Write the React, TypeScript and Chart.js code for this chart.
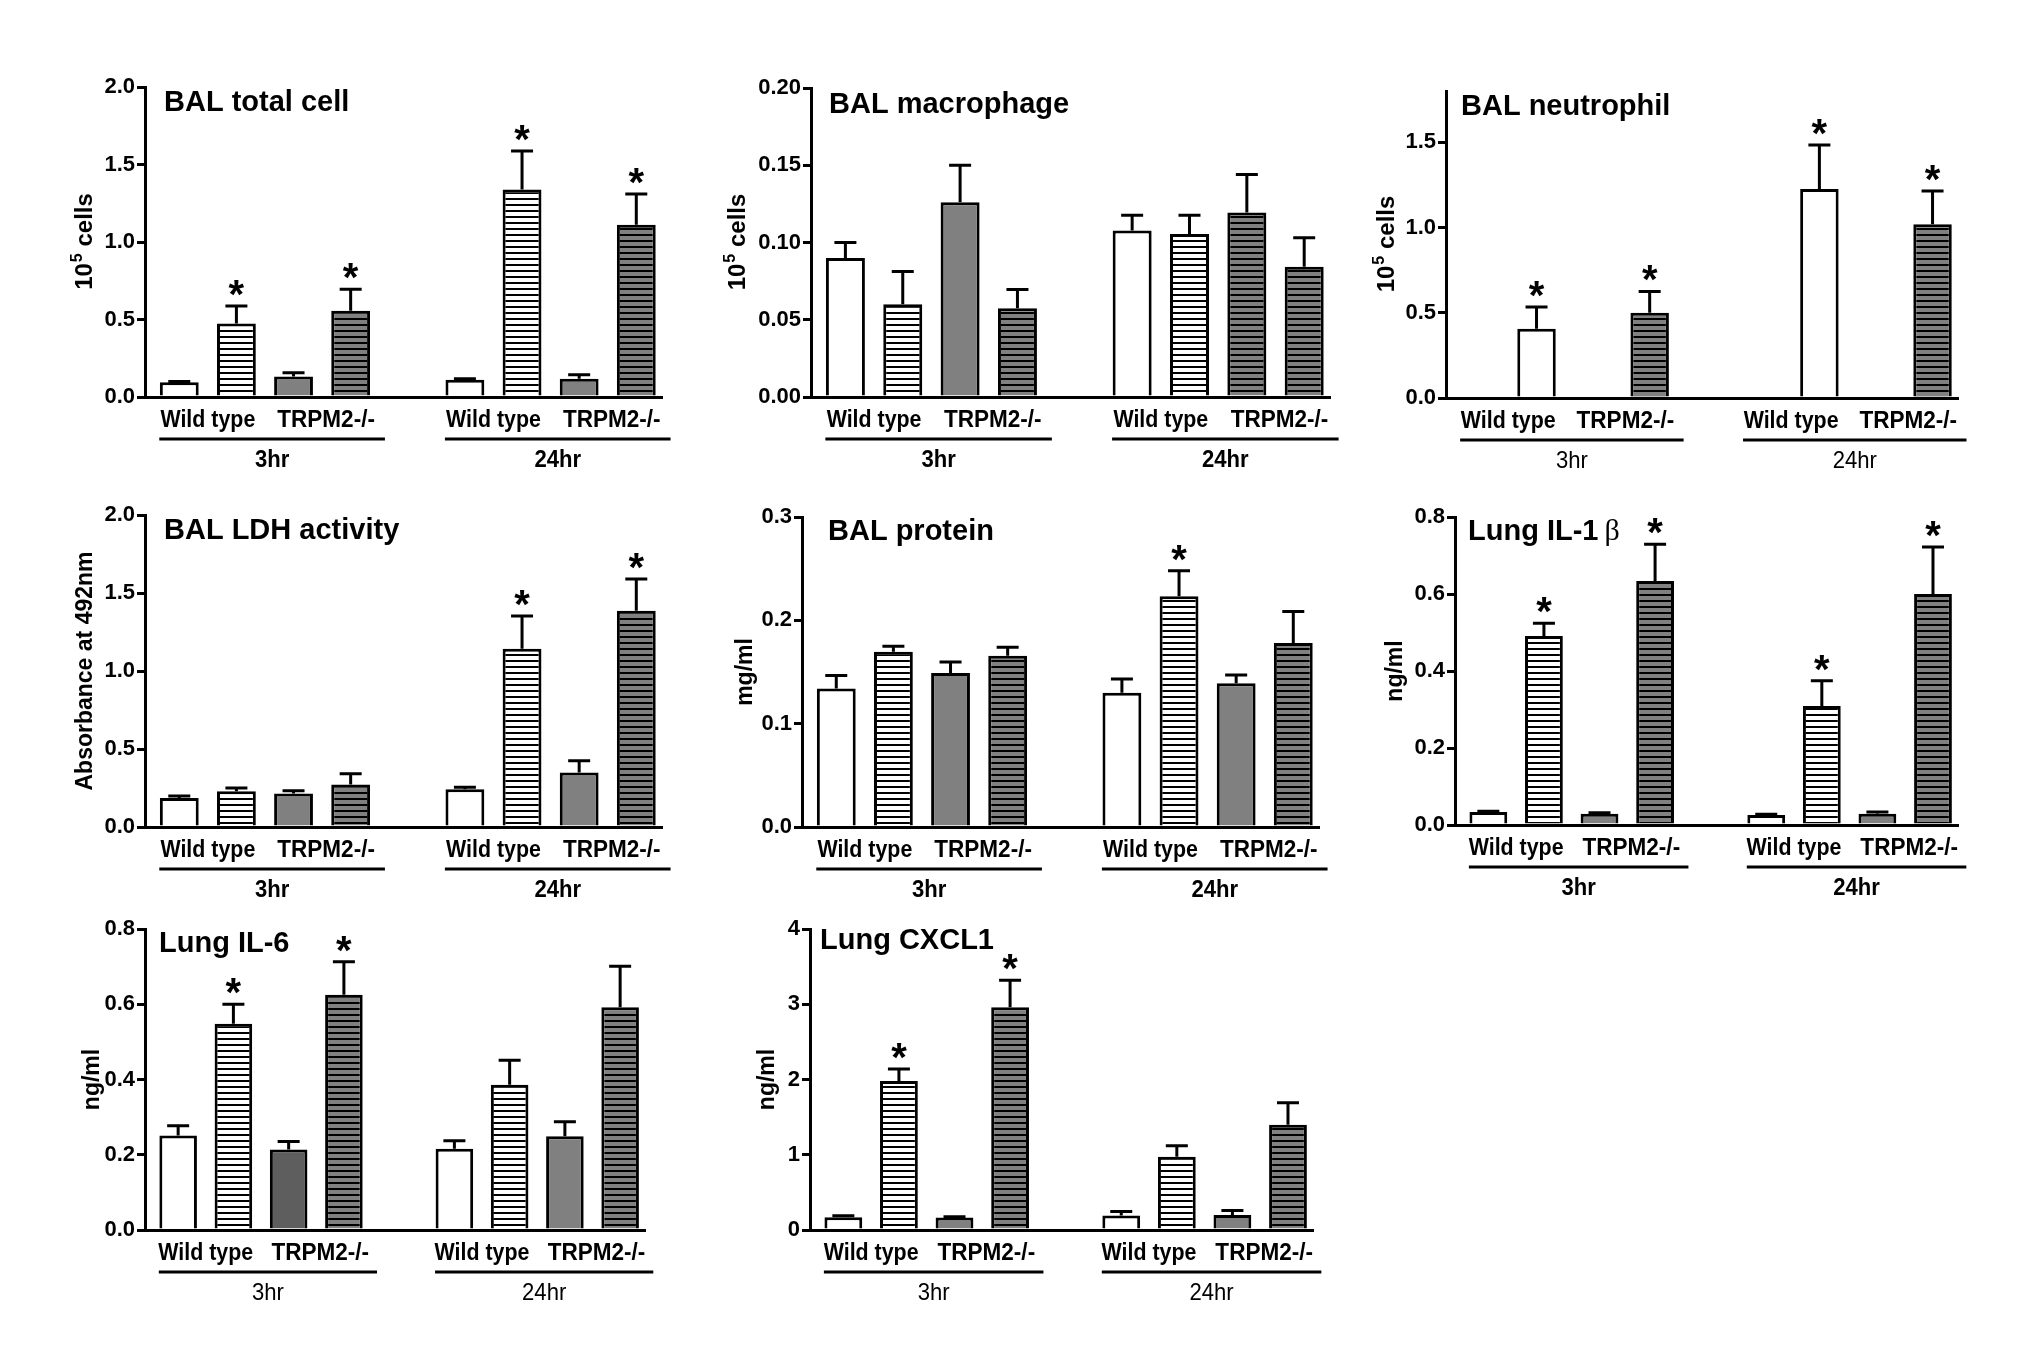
import { useEffect, useRef } from 'react';
import { Chart, registerables } from 'chart.js';

Chart.register(...registerables);

const PAGE_W = 2018;
const PAGE_H = 1364;
const Y_AXIS_W = 100;
const SANS = "'Liberation Sans', Arial, Helvetica, sans-serif";
const SERIF = "'Liberation Serif', 'DejaVu Serif', serif";

// groups and time points under the x axis
const genotypes = ['Wild type', 'TRPM2-/-'];
const timepoints = ['3hr', '24hr'];

// bar order in every panel: WT ctrl, WT treated, KO ctrl, KO treated (3hr), then the same for 24hr
const slotX = [0, 1, 2, 3, 5, 6, 7, 8];
const X_MIN = -0.6;
const X_MAX = 8.45;

// BAL total cell (10^5 cells)
const totalCellMean = [0.095, 0.475, 0.133, 0.557, 0.112, 1.338, 0.118, 1.112];
const totalCellSem = [0.005, 0.112, 0.024, 0.138, 0.006, 0.249, 0.026, 0.198];
const totalCellSig = [0, 1, 0, 1, 0, 1, 0, 1];

// BAL macrophage (10^5 cells)
const macrophageMean = [0.09, 0.06, 0.126, 0.0575, 0.1077, 0.1055, 0.1194, 0.0843];
const macrophageSem = [0.01, 0.0213, 0.024, 0.0121, 0.0099, 0.0121, 0.0246, 0.0187];
const macrophageSig = [0, 0, 0, 0, 0, 0, 0, 0];

// BAL neutrophil (10^5 cells), controls not detectable
const neutrophilMean = [null, 0.406, null, 0.5, null, 1.225, null, 1.018];
const neutrophilSem = [null, 0.127, null, 0.125, null, 0.259, null, 0.196];
const neutrophilSig = [0, 1, 0, 1, 0, 1, 0, 1];

// BAL LDH activity (absorbance at 492nm)
const ldhMean = [0.186, 0.229, 0.214, 0.272, 0.242, 1.143, 0.35, 1.387];
const ldhSem = [0.013, 0.021, 0.019, 0.069, 0.013, 0.209, 0.075, 0.203];
const ldhSig = [0, 0, 0, 0, 0, 1, 0, 1];

// BAL protein (mg/ml)
const proteinMean = [0.134, 0.1696, 0.149, 0.1657, 0.13, 0.2233, 0.139, 0.178];
const proteinSem = [0.0126, 0.0054, 0.0106, 0.0082, 0.0133, 0.0247, 0.008, 0.0306];
const proteinSig = [0, 0, 0, 0, 0, 1, 0, 0];

// Lung IL-1 beta (ng/ml)
const il1bMean = [0.034, 0.491, 0.0295, 0.634, 0.026, 0.309, 0.0295, 0.6];
const il1bSem = [0.002, 0.033, 0.0025, 0.095, 0.002, 0.066, 0.0045, 0.122];
const il1bSig = [0, 1, 0, 1, 0, 1, 0, 1];

// Lung IL-6 (ng/ml)
const il6Mean = [0.251, 0.548, 0.214, 0.625, 0.216, 0.386, 0.249, 0.592];
const il6Sem = [0.026, 0.052, 0.021, 0.088, 0.021, 0.065, 0.039, 0.109];
const il6Sig = [0, 1, 0, 1, 0, 0, 0, 0];

// Lung CXCL1 (ng/ml)
const cxcl1Mean = [0.171, 1.98, 0.167, 2.96, 0.193, 0.974, 0.2, 1.4];
const cxcl1Sem = [0.018, 0.16, 0.008, 0.36, 0.053, 0.146, 0.06, 0.29];
const cxcl1Sig = [0, 1, 0, 1, 0, 0, 0, 0];

const baseFills = ['open', 'stripeWhite', 'gray', 'stripeGray', 'open', 'stripeWhite', 'gray', 'stripeGray'];

interface PanelCfg {
  box: { L: number; R: number; T: number; B: number };
  title: string;
  titleGreek?: string;
  titleDx: number;
  titleDy: number;
  yTitle: string;
  yTitleDx: number;
  max: number;
  ticks: number[];
  decimals: number;
  mean: (number | null)[];
  sem: (number | null)[];
  sig: number[];
  fills: string[];
  timeBold: boolean;
}

const withFill = (idx: number, kind: string) => baseFills.map((f, i) => (i === idx ? kind : f));

const panels: PanelCfg[] = [
  {
    box: { L: 145, R: 662, T: 87, B: 397 },
    title: 'BAL total cell', titleDx: 19, titleDy: 14,
    yTitle: '10^5 cells', yTitleDx: 61,
    max: 2, ticks: [0, 0.5, 1, 1.5, 2], decimals: 1,
    mean: totalCellMean, sem: totalCellSem, sig: totalCellSig,
    fills: baseFills, timeBold: true,
  },
  {
    box: { L: 811, R: 1330, T: 88, B: 397 },
    title: 'BAL macrophage', titleDx: 18, titleDy: 15,
    yTitle: '10^5 cells', yTitleDx: 74,
    max: 0.2, ticks: [0, 0.05, 0.1, 0.15, 0.2], decimals: 2,
    mean: macrophageMean, sem: macrophageSem, sig: macrophageSig,
    fills: withFill(6, 'stripeGray'), timeBold: true,
  },
  {
    box: { L: 1446, R: 1958, T: 91, B: 398 },
    title: 'BAL neutrophil', titleDx: 15, titleDy: 14,
    yTitle: '10^5 cells', yTitleDx: 60,
    max: 1.8, ticks: [0, 0.5, 1, 1.5], decimals: 1,
    mean: neutrophilMean, sem: neutrophilSem, sig: neutrophilSig,
    fills: baseFills.map((f, i) => (i === 1 || i === 5 ? 'open' : f)), timeBold: false,
  },
  {
    box: { L: 145, R: 662, T: 515, B: 827 },
    title: 'BAL LDH activity', titleDx: 19, titleDy: 14,
    yTitle: 'Absorbance at 492nm', yTitleDx: 61,
    max: 2, ticks: [0, 0.5, 1, 1.5, 2], decimals: 1,
    mean: ldhMean, sem: ldhSem, sig: ldhSig,
    fills: baseFills, timeBold: true,
  },
  {
    box: { L: 802, R: 1319, T: 517, B: 827 },
    title: 'BAL protein', titleDx: 26, titleDy: 13,
    yTitle: 'mg/ml', yTitleDx: 58,
    max: 0.3, ticks: [0, 0.1, 0.2, 0.3], decimals: 1,
    mean: proteinMean, sem: proteinSem, sig: proteinSig,
    fills: baseFills, timeBold: true,
  },
  {
    box: { L: 1455, R: 1958, T: 517, B: 825 },
    title: 'Lung IL-1', titleGreek: 'β', titleDx: 13, titleDy: 13,
    yTitle: 'ng/ml', yTitleDx: 61,
    max: 0.8, ticks: [0, 0.2, 0.4, 0.6, 0.8], decimals: 1,
    mean: il1bMean, sem: il1bSem, sig: il1bSig,
    fills: baseFills, timeBold: true,
  },
  {
    box: { L: 145, R: 645, T: 929, B: 1230 },
    title: 'Lung IL-6', titleDx: 14, titleDy: 13,
    yTitle: 'ng/ml', yTitleDx: 54,
    max: 0.8, ticks: [0, 0.2, 0.4, 0.6, 0.8], decimals: 1,
    mean: il6Mean, sem: il6Sem, sig: il6Sig,
    fills: withFill(2, 'darkGray'), timeBold: false,
  },
  {
    box: { L: 810, R: 1313, T: 929, B: 1230 },
    title: 'Lung CXCL1', titleDx: 10, titleDy: 10,
    yTitle: 'ng/ml', yTitleDx: 44,
    max: 4, ticks: [0, 1, 2, 3, 4], decimals: 0,
    mean: cxcl1Mean, sem: cxcl1Sem, sig: cxcl1Sig,
    fills: baseFills, timeBold: false,
  },
];

function makeFill(ctx: CanvasRenderingContext2D, kind: string): string | CanvasPattern {
  if (kind === 'open') return '#ffffff';
  if (kind === 'gray') return '#808080';
  if (kind === 'darkGray') return '#5e5e5e';
  const tile = document.createElement('canvas');
  tile.width = 8;
  tile.height = 6;
  const t = tile.getContext('2d') as CanvasRenderingContext2D;
  t.fillStyle = kind === 'stripeGray' ? '#808080' : '#ffffff';
  t.fillRect(0, 0, 8, 6);
  t.fillStyle = '#000000';
  t.fillRect(0, 0, 8, 2);
  return ctx.createPattern(tile, 'repeat') as CanvasPattern;
}

// slightly narrow lettering like the original figure's axis labels
function fillCondensed(c: CanvasRenderingContext2D, text: string, x: number, y: number, sx: number) {
  c.save();
  c.translate(x, y);
  c.scale(sx, 1);
  c.fillText(text, 0, 0);
  c.restore();
}

function drawYTitle(ctx: CanvasRenderingContext2D, text: string, cx: number, cy: number) {
  ctx.save();
  ctx.translate(cx, cy);
  ctx.rotate(-Math.PI / 2);
  ctx.fillStyle = '#000';
  ctx.textBaseline = 'alphabetic';
  ctx.textAlign = 'left';
  const size = 23;
  const base = size * 0.36;
  const m = text.match(/^(.*)\^(\d)(.*)$/);
  if (m) {
    const big = `bold 24px ${SANS}`;
    const small = `bold 16px ${SANS}`;
    ctx.font = big;
    const w1 = ctx.measureText(m[1]).width;
    const w3 = ctx.measureText(m[3]).width;
    ctx.font = small;
    const w2 = ctx.measureText(m[2]).width;
    let x = -(w1 + w2 + w3) / 2;
    ctx.font = big;
    ctx.fillText(m[1], x, base);
    x += w1;
    ctx.font = small;
    ctx.fillText(m[2], x + 1, base - 10);
    x += w2 + 1;
    ctx.font = big;
    ctx.fillText(m[3], x, base);
  } else {
    ctx.font = `bold ${size}px ${SANS}`;
    ctx.textAlign = 'center';
    ctx.fillText(text, 0, base);
  }
  ctx.restore();
}

function BarPanel({ cfg }: { cfg: PanelCfg }) {
  const ref = useRef<HTMLCanvasElement | null>(null);

  useEffect(() => {
    const canvas = ref.current as HTMLCanvasElement;
    const ctx = canvas.getContext('2d') as CanvasRenderingContext2D;
    const { L, R, T, B } = cfg.box;

    const decor = {
      id: 'decor',
      afterDatasetsDraw(chart: any) {
        const c = chart.ctx as CanvasRenderingContext2D;
        const { x, y } = chart.scales;
        c.save();
        c.strokeStyle = '#000';
        c.fillStyle = '#000';
        c.lineWidth = 3;
        cfg.mean.forEach((m, i) => {
          if (m === null) return;
          const cx = x.getPixelForValue(slotX[i]);
          const y0 = y.getPixelForValue(m);
          const y1 = y.getPixelForValue(m + (cfg.sem[i] as number));
          c.beginPath();
          c.moveTo(cx, y0);
          c.lineTo(cx, y1);
          c.moveTo(cx - 11, y1);
          c.lineTo(cx + 11, y1);
          c.stroke();
          if (cfg.sig[i]) {
            c.font = `bold 40px ${SANS}`;
            c.textAlign = 'center';
            c.textBaseline = 'alphabetic';
            const mt = c.measureText('*');
            c.fillText('*', cx, y1 - 10 - mt.actualBoundingBoxDescent);
          }
        });
        c.restore();
      },
      afterDraw(chart: any) {
        const c = chart.ctx as CanvasRenderingContext2D;
        const { x } = chart.scales;
        c.save();
        c.fillStyle = '#000';
        c.strokeStyle = '#000';
        c.textBaseline = 'alphabetic';

        // panel title
        c.font = `bold 29px ${SANS}`;
        c.textAlign = 'left';
        const ty = T + cfg.titleDy + 29 * 0.36;
        c.fillText(cfg.title, L + cfg.titleDx, ty);
        if (cfg.titleGreek) {
          const w = c.measureText(cfg.title).width;
          c.font = `30px ${SERIF}`;
          c.fillText(cfg.titleGreek, L + cfg.titleDx + w + 6, ty);
        }

        drawYTitle(c, cfg.yTitle, L - cfg.yTitleDx, (T + B) / 2);

        // genotype labels, bracket lines and time labels
        timepoints.forEach((tp, t) => {
          const s = slotX.slice(t * 4, t * 4 + 4);
          c.font = `bold 23px ${SANS}`;
          c.textAlign = 'center';
          genotypes.forEach((g, gi) => {
            const gx = (x.getPixelForValue(s[gi * 2]) + x.getPixelForValue(s[gi * 2 + 1])) / 2;
            fillCondensed(c, g, gx + gi * 4, B + 22 + 23 * 0.36, gi === 0 ? 0.93 : 0.98);
          });
          const x0 = x.getPixelForValue(s[0] - 0.35);
          const x1 = x.getPixelForValue(s[3] + 0.6);
          c.lineWidth = 3;
          c.beginPath();
          c.moveTo(x0, B + 42);
          c.lineTo(x1, B + 42);
          c.stroke();
          c.font = `${cfg.timeBold ? 'bold ' : ''}24px ${SANS}`;
          fillCondensed(c, tp, (x0 + x1) / 2, B + 61 + 24 * 0.36, 0.92);
        });
        c.restore();
      },
    };

    const chart = new Chart(canvas, {
      type: 'bar',
      data: {
        datasets: [
          {
            data: slotX.map((sx, i) => ({ x: sx, y: cfg.mean[i] })) as any,
            backgroundColor: cfg.fills.map((f) => makeFill(ctx, f)) as any,
            borderColor: '#000',
            borderWidth: 3,
            barPercentage: 0.68,
            categoryPercentage: 1,
          },
        ],
      },
      options: {
        responsive: false,
        animation: false,
        layout: {
          padding: { left: L - Y_AXIS_W, right: PAGE_W - R, top: T, bottom: PAGE_H - B },
        },
        plugins: { legend: { display: false }, tooltip: { enabled: false } },
        scales: {
          x: {
            type: 'linear',
            min: X_MIN,
            max: X_MAX,
            offset: false,
            afterFit: (s: any) => {
              s.height = 0;
            },
            afterBuildTicks: (s: any) => {
              s.ticks = slotX.map((v) => ({ value: v }));
            },
            ticks: { display: false },
            grid: { display: false, offset: false },
            border: { display: true, width: 3, color: '#000' },
          },
          y: {
            type: 'linear',
            min: 0,
            max: cfg.max,
            afterFit: (s: any) => {
              s.width = Y_AXIS_W;
            },
            afterBuildTicks: (s: any) => {
              s.ticks = cfg.ticks.map((v) => ({ value: v }));
            },
            ticks: {
              padding: 2,
              color: '#000',
              font: { family: SANS, size: 22, weight: 'bold' },
              callback: (v: any) => Number(v).toFixed(cfg.decimals),
            },
            grid: { drawOnChartArea: false, drawTicks: true, tickLength: 8, lineWidth: 3, color: '#000' },
            border: { display: true, width: 3, color: '#000' },
          },
        },
      },
      plugins: [decor],
    });

    return () => chart.destroy();
  }, [cfg]);

  return (
    <canvas
      ref={ref}
      width={PAGE_W}
      height={PAGE_H}
      style={{ position: 'absolute', left: 0, top: 0 }}
    />
  );
}

export default function App() {
  return (
    <div
      style={{
        position: 'absolute',
        left: 0,
        top: 0,
        width: PAGE_W,
        height: PAGE_H,
        background: '#ffffff',
        overflow: 'hidden',
      }}
    >
      {panels.map((p, i) => (
        <BarPanel key={i} cfg={p} />
      ))}
    </div>
  );
}
